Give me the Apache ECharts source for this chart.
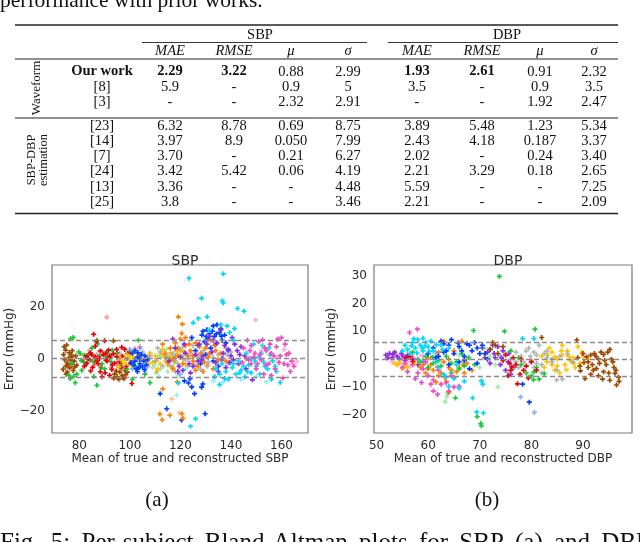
<!DOCTYPE html>
<html><head><meta charset="utf-8">
<script src="https://cdn.jsdelivr.net/npm/echarts@6/dist/echarts.min.js"></script>
<style>html,body{margin:0;padding:0;background:#fff}#c{width:640px;height:542px}</style>
</head><body><div id="c"></div>
<script>
// ---------- table data ----------
const rowLabels = ['Our work','[8]','[3]','[23]','[14]','[7]','[24]','[13]','[25]'];
const sbpMAE   = ['2.29','5.9','-','6.32','3.97','3.70','3.42','3.36','3.8'];
const sbpRMSE  = ['3.22','-','-','8.78','8.9','-','5.42','-','-'];
const sbpMu    = ['0.88','0.9','2.32','0.69','0.050','0.21','0.06','-','-'];
const sbpSigma = ['2.99','5','2.91','8.75','7.99','6.27','4.19','4.48','3.46'];
const dbpMAE   = ['1.93','3.5','-','3.89','2.43','2.02','2.21','5.59','2.21'];
const dbpRMSE  = ['2.61','-','-','5.48','4.18','-','3.29','-','-'];
const dbpMu    = ['0.91','0.9','1.92','1.23','0.187','0.24','0.18','-','-'];
const dbpSigma = ['2.32','3.5','2.47','5.34','3.37','3.40','2.65','7.25','2.09'];
const colHeaders = ['MAE','RMSE','μ','σ'];

// ---------- axis ticks / limits ----------
const sbpXTicks = [80,100,120,140,160];
const sbpYTicks = [-20,0,20];
const dbpXTicks = [50,60,70,80,90];
const dbpYTicks = [-20,-10,0,10,20,30];
const sbpLimits = [7.2,0,-7.2];
const dbpLimits = [6.2,0,-6.1];

// ---------- SBP scatter data ----------
const sbpBrown = [[74,4.5],[75,5.2],[74.6,3.2],[76,2.2],[77,0.6],[74.2,-0.4],[78,-1],[75.2,-1.6],[77,-2.2],[74.6,-3],[76.2,-3.6],[73.6,-4.2],[77.6,-4.6],[75.2,-5.2],[78.6,1],[76.6,-0.6],[73.8,1.5],[79,-2.6],[75.8,0.2],[77.2,3],[75.5,-2.5],[76.8,1.5],[78.2,-3.2],[74.8,-6],
 [94,-6],[95,-7],[96,-5.2],[97,-6.6],[98,-4.6],[95.6,-8],[93.6,-7.6],[99,-5.2],[96.6,-3.6],[97.6,-7.8],[94.6,-4.8],[98.4,-6.2],[93.5,6.8],[90.5,-0.6],[92,1.2]];
const sbpGreen = [[76.5,7.6],[77.6,8.1],[79.8,2.5],[81,-4.5],[75.8,-6.4],[76.4,-7.7],[78.4,-9.3],[87,-10.3],[85.7,-6.9],[81.7,-1.3],[87,7],[87.2,5.6],[103.4,7],[108,-9.3],[98.8,-4.1],[94.8,0.5],[83,0.5],[84.3,-0.6],[80.4,1.9],[82,1.2],[89,-2],[91,2.5],[86,-1.5],[90,-4],[80.8,-0.8],[77,-1.8],[93,3.2],[88,1],[106,-6],[104,-3.5],[100,2.5],[85,4],[79,-6],[101,-8],[77.8,-6.8],
 [82.5,-2.2],[84,1.8],[86.5,-0.2],[88.6,-3.6],[90.5,0.8],[92.5,-1.2],[95,2.2],[96.5,-2],[99,0.2],[102,-2.8]];
const sbpGreenLight = [[108,2],[110,-2.5],[111,1],[112,-4],[113,3],[114,-1],[115,-5],[116,1.5],[117,-3],[118,4],[110.5,-5.5],[112.5,0.5],[114.5,3.5],[109,-3.5],[116.5,-0.5],[119,-6.5],[111.5,-7]];
const sbpRed = [[85.7,9.3],[86.3,4.7],[88.3,2.9],[84.3,2.1],[86.3,0.6],[83,-1.9],[85.3,-3.4],[88.3,-5.1],[90.2,-5.5],[92.9,-4.2],[94.8,3.5],[96.8,4.3],[100.8,-9.6],[91.6,3.3],[84.5,-4.8],[82,-3],[97,0.8],[99.2,2],[87.5,-2],[89.5,1.5],[91,-1],[93,-2.5],[95.5,-3],[82.8,1],[86.8,6.5],[90,6.8],[98,3.5],[94,-1.8],[89,-7],[92,-6.5],[100.2,-2],
 [83.5,-0.2],[85,1.5],[87,-1],[88,0],[90.5,2],[92,0.5],[93.5,1.8],[95,0.6],[96,-1.2],[98.5,-3]];
const sbpRedLight = [[90.9,15.8],[83,0.5],[85,-1],[87,1.5],[84,3],[88.5,-3],[91,0],[93,1],[95,-1.5],[81.5,-0.5],[86,-2.5],[92.5,-3.5],[89,2.8],[96,2],[98.5,-0.5],[100,1.5],[102,3.8],[104,4.5],[97,-3]];
const sbpYellow = [[96.2,0],[98.2,-1.9],[100.2,-0.6],[95.5,-3.2],[98.8,1.3],[101.5,0.5],[97,-0.8],[109,-1.5],[110,1],[112,-2],[114,0.5],[116,2.2],[118,-1],[120,3],[113,3.5],[108,2],[104,1],[106,-1],[111,-4],[117,-3.5],[119,1.5],[121,0],[115,-2.5],[122,-2.2],[107,0.5],
 [99.5,1],[100.8,-2.6],[103,2],[105,-0.5],[107.5,-2],[110.5,-0.8],[112.5,1.5],[114.5,-1],[116.5,0.6],[118.5,2.8]];
const sbpBlue = [[101,2],[102,-1],[103,0.5],[104,-2],[105,-3],[102.5,-4],[106,1],[103.5,-3.5],[104.5,1.5],[101.5,-2.5],[105.5,-1],[107,-0.5],[102,3],[100.5,-1.5],[106.5,-2.4],[103,-5],[104,0],[103.2,2.2],[105.8,-4.2],
 [112,-13.5],[114.6,-19.3],[120.5,-23.7],[129.8,-21.2],[123.8,-7.7],[123.2,-9.4],[124.5,-10.9],[125.6,-13.5],[121.6,-8.6],[128.9,-9.8],[128.4,-11],
 [124.5,8],[128.5,9],[129,10.5],[130.5,11],[133,12.5],[134.5,13],[131.5,9.5],[133.5,8.5],[135.5,10],[131,7.5],[129.5,6.5],[134,5.5],[136.5,7],[132,4],[127,5],[136,11.5],[137.5,9],[138,6],[126,3],[130,1.5],[133,-1],[139,3],[128,-2],[135,-3],[134.2,9.4],[132.6,10.5],[130.2,8.4],[136.2,8.6]];
const sbpBlueLight = [[100,3.5],[103,-1],[105,2.5],[107,-3],[101,-4],[104,4],[120,-6],[118,1],[106,-5]];
const sbpOrange = [[119.2,16],[120.8,13.2],[120.5,9.6],[113,-11.7],[111.9,-21.3],[112.8,-23.5],[115.8,-21.8],[120.6,-21.2],[121,-23],[118.8,-9],
 [114,2],[116,4],[118,6],[120,7.5],[122,5],[124,3],[126,6],[128,2],[130,4],[132,7],[134,3],[125,-1],[127,-3],[121,-2],[117,-4],[123,1],[129,-5],[131,0.5],[119,1],[115,-1.5],[136,2],[138,-1],[113,5.5],[122,8],[126,-4.5],[133,-4],[117.5,0],
 [119,4],[121.5,2.5],[123.5,5.5],[125,1],[127.5,4.5],[129.5,-1.5],[131.5,2],[133.5,5],[135,-0.5],[116,-0.5]];
const sbpOrangeLight = [[116.6,-15.5],[110.6,-5],[119.5,-20.8],[125,-2],[131,-2.5]];
const sbpGray = [[108,1],[110,-1],[112,2.5],[113,-3],[115,0.5],[117,2],[119,-2],[120,3.5],[122,-0.5],[124,2],[126,-2.5],[127,1],[129,3],[131,-1.5],[132,2],[134,-3],[135,1.5],[137,0],[139,-2],[140,2.5],[118,-5],[121,4.6],[128,-4.2],[125,5],[111,4],[138,4],[116,-2.8],[123,0],
 [114,1.2],[117.5,-1.2],[120.5,1],[123,-2.8],[125.5,0.8],[128,0.5],[130.5,-3],[133,0.4],[136,-1],[138.5,1.4]];
const sbpPurple = [[115.5,-1],[117,7.5],[118,4],[119.5,-3],[121,-4.5],[120,0.5],[122,2],[123.5,-2],[124,-5.5],[119,-5],[131.5,8.5],[133,7],[134.5,6],[136,11],[137.5,5],[139,3.5],[140,1],[141,-0.5],[142.5,3],[144,4.5],[143,-2],[145.5,1],[138,-3.5],[140.5,8],[146,-4],[148.5,-8.2],[135,-5],[130.5,5.5],[128.5,-0.5],[126,1.5],[137,2],[127.5,5.5],
 [125,-3],[127,-1],[129,1],[132.5,2.5],[134,-1.5],[136.5,0],[139.5,-1.5],[141.5,5.5],[143.5,1.5],[121.5,5.5]];
const sbpCyan = [[123.4,30.8],[137,32.5],[137,21.3],[136.6,22.2],[128.4,23.1],[142.6,19.2],[145.2,18.2],[127.1,15.4],[130.6,16],[125.1,13.7],[141.4,11.5],[124,-26],[126,-23.1],[119.2,-9.4],[135.5,-10],[133.6,-6.9],[137.6,-7.7],
 [134,-4],[135.5,-6],[136.5,-2],[138,-5],[139,-8],[140.5,-3.5],[142,-6],[143,-1],[144,-4.5],[145.5,-7],[147,-2.5],[148,-5.5],[150,-3],[151.5,-6],[153,-1.5],[154.5,-4],[156,-8],[157.5,-3],[152,2],[155,4],[158,-5],[159.5,-9.2],[146,2],[149,5.5],[152.5,5],[141,7],[139.5,10],[138.5,12.5],[136,13],[131.5,11],
 [141,-2],[143.5,-5.5],[146.5,-5],[149.5,-1],[151,0.5],[153.5,-3],[156.5,-1],[155.5,1.5],[148,0],[145,-3]];
const sbpCyanLight = [[118.5,-14.1],[122,-4],[133,-8.5],[137,-9],[144,-8],[150,-7],[154,-9]];
const sbpPink = [[145,4],[146.5,7],[148,5],[149.5,2],[151,6.5],[152.5,7.2],[154,3],[155.5,5.5],[157,1],[158.5,7.5],[160,8],[161.5,5.5],[163,2],[164,-1],[165,-3],[163.5,-5],[161,-2],[159,-1.5],[157.5,-4],[155,-2],[152,-0.5],[150,-4],[148,-2],[146,0],[153,-6],[156,-6.5],[160.5,-7.5],[162,1.5],[144.5,-1.5],[147.5,3],
 [147,-0.5],[149,0.5],[151.5,1.5],[153.5,4],[156,2],[158,4.5],[159.5,1],[162.5,-2.5],[150.5,-2],[154,-2.5]];
const sbpPinkLight = [[149.8,14.8],[147,0.5],[152,3],[158,0],[161,3.5],[164.5,-2],[166,-1]];

// ---------- DBP scatter data ----------
const dbpPurple = [[51.8,1.5],[52.5,2],[53,0.5],[53.5,2.5],[54,1],[54.8,2],[55.5,-0.5],[52.2,0.5],[56,1.5],[57,0],[58,-2],[53.2,1.8],[54.4,0],[55.2,1],
 [70.5,4],[71.5,2.5],[72.5,5],[73,0.5],[74,-2],[74.5,3],[75,-4],[75.5,-1],[76,-5.5],[76.5,-3],[73.5,4.5],[72,-1.5],[71,0.5],[72.8,2],[74.2,0.5],[75.6,2]];
const dbpPink = [[56.4,9.6],[57.9,10.8],[58.7,-8.4],[61,-11.5],[61.8,-12.7],[55,-3],[56,-4.5],[57,-2],[58,-5],[59,-3.5],[60,-6],[61,-7.5],[62.5,-9],[63.5,-8.5],[64,-11.5],[65,-10],[66,-9.8],[59.5,-1],[62,-4],[55.5,-1.5],[57.5,-7],[64.5,-6],[60.5,-9]];
const dbpPinkLight = [[52,0],[53,-1],[54,-2],[55,0.5],[56,-1],[57,1],[58,-0.5],[59,1],[56.5,-2.5],[54.5,-1.5],[60,0],[53.5,1],[55.5,-2],[57.5,0],[58.5,1.5],[59.5,-1.5]];
const dbpCyan = [[55.5,5],[56,3.5],[57,6],[57.5,4],[58,7],[58.5,5],[59,3],[59.5,6],[60,4.5],[61,3],[56.5,2],[60.5,6.5],[62.5,5],[64,4],[55,3],[61.5,-1],[62,-3],[63,-5.5],[64,-9.8],[65,-7],[66,-10.5],[67,-8],[68.6,-14],[69.4,-19],[70.7,-19.4],[70.3,-7.8],[70.6,-9],[65.5,-2],[63.5,-6.5],[78.3,7.4],[80.5,7.4],[59,7.5],[57.2,7.3],
 [57.8,2.2],[58.8,4],[60.2,2.8],[61.6,5.2],[62.8,3.4],[59.4,4.6],[56.8,4.8]];
const dbpBlue = [[60,2],[61,4],[62,1],[63,5.5],[63.5,3],[64.5,7],[65,2],[66,4.5],[67,1],[67.5,5.5],[68.5,3],[69,6],[70,2],[70.5,5],[71.5,0],[72,3.5],[66,-1],[68,-3.5],[64,-2],[69.5,-1.5],[79.6,-15.5],[78.3,-9],[62.5,6.5],[65.8,5.8],
 [61.5,0.5],[63,2.5],[64,5],[66.5,3],[68,5],[69.5,4],[71,2],[67,-0.5]];
const dbpBlueLight = [[77.9,-13.6],[80.6,-19.2],[59,-0.5],[61.5,2],[74,1]];
const dbpOrange = [[58.5,-3],[59.5,-5],[60.5,-2],[61,-4],[62,-6],[63,-1],[63.5,-8],[64.5,-4],[65,-6.5],[66,-3],[67,-5],[67.5,-1.5],[68.5,-4],[63,6.5],[65,3],[66.5,6.5],[62,2.5],[64,0],[60,0.5],[61.5,-8.3],[64,-12],
 [59,-2],[60,-3.5],[61.8,-2.8],[62.5,-5],[64,-3],[65.5,-4.5],[66.8,-2],[63.2,-6.5]];
const dbpGreen = [[73.8,29.8],[68.8,10.3],[74.8,10],[80.7,10.8],[65.3,-14],[69.5,-20.7],[70.2,-23.2],[70.3,-24],[80.4,-7.4],[58.5,-1],[59.5,1],[60,-3],[61,-1.5],[62.5,-2.5],[63.5,1],[64.5,-5],[65.5,-1],[66.5,2],[67,-2.5],[57,2.5],[76,3],[78,-2],[79,-5],[80,-6],[81,-3],[77.5,0.5],[82.5,-5.2],[81.5,-7.2],[80.5,-4.6],
 [58,0],[60.8,0.8],[62,-0.5],[64.5,-1.5],[66,-3.5],[67.8,0.5],[69,-2]];
const dbpGreenLight = [[63.6,-13.6],[63.7,-12.4],[63.3,-15.3],[73.5,-10],[71,4],[72,1],[73,-2],[70,-3],[68,0.5],[66,1.5]];
const dbpRed = [[56.5,1],[57,-0.8],[55.8,0.5],[77.3,-8.9],[79.4,-6.8],[76,-4],[75.5,-6],[77,-2],[78,0],[79,-2.5],[76.5,0.5],[80,-1],[81,-4],[74.5,-0.5],[75,1.5],[75.8,-1.5],[76.2,-2.8],[78.5,-4],[77.8,-5.5]];
const dbpYellow = [[54,-2],[54.5,-1],[55,-3.5],[55.5,-2.5],[56,-3],[57.5,-1.5],[53.5,-1.5],[82,1],[83,-1],[84,2.5],[85,0],[86,1.5],[86.5,-2],[87,3],[88,0.5],[88.5,-3],[89,4.5],[90,1],[84.5,-4],[85.5,-5],[87.5,-0.5],[83.5,4],[89.5,-1.5],[86,5],[91,0],[84,-2],[82.5,-3],
 [83.2,1.5],[84.6,0.8],[85.8,3],[87.2,1],[88.2,-1.5],[85,-2.5],[86.8,-3.8],[89.8,2.5]];
const dbpGray = [[75,2],[76,0],[77,2.5],[78,1],[79,3],[80,-0.5],[81,1.5],[82,-2],[83,0.5],[84,-1],[85,-4],[84.9,-7.5],[86,-7.2],[79.5,4],[81.5,5],[83,3],[77.5,-3],[82,-5],[87,2],[88,-1],[80.5,-3],[75.5,-5],[76.5,-3.5],
 [78.5,-1],[79.8,1],[81,-1.5],[82.5,2],[84,0],[85.5,1],[80.5,2.5],[77,-1]];
const dbpBrown = [[82,7.8],[88.8,6.9],[73,5],[72,3.5],[74.5,4.5],[73.5,2],[72.5,6],[89,0.5],[89.4,-2.5],[90,2],[90.4,-7],[90.7,0.8],[91,-1],[91.5,1.5],[92,-4],[92.6,-3.4],[93,0],[93.5,2.5],[94,1.7],[94.5,-2],[95,-5],[95.2,3.5],[95.2,-7.6],[95.5,0],[96,-3],[96.2,-5.1],[96.5,-9.3],[96.9,-6.5],[97,-8],[93,-6],[91,-3],[94,-4.5],[92.5,1],[89.5,-4.2],
 [90.2,-1.2],[91.8,-2],[92.2,2],[93.2,-1.5],[94.2,-0.5],[94.8,2.5],[95.8,-1],[96.4,-4],[91.5,-5.5],[93.8,-7.2]];

// ---------- text ----------
const topLine = 'performance with prior works.';
const captionWords = ['Fig.','5:','Per-subject','Bland-Altman','plots','for','SBP','(a)','and','DBP'];
const subLabels = ['(a)','(b)'];

// ---------- build ----------
const C = {blue:'#023eff',orange:'#ff7c00',green:'#1ac938',red:'#e8000b',purple:'#8b2be2',brown:'#9f4800',pink:'#f14cc1',gray:'#a3a3a3',yellow:'#ffc400',cyan:'#00d7ff',corn:'#4a78ff'};
const plusPath = 'path://M1,0H2V1H3V2H2V3H1V2H0V1H1Z';
function sc(data, color, op, xi){
  return {type:'scatter', xAxisIndex:xi, yAxisIndex:xi, data:data, symbol:plusPath, symbolSize:5,
    itemStyle:{color:color, opacity:op}, silent:true, animation:false};
}
const sbpList = [
  [sbpBrown,C.brown,1],[sbpGreen,C.green,1],[sbpGreenLight,C.green,0.4],[sbpRedLight,C.red,0.4],[sbpRed,C.red,1],
  [sbpYellow,C.yellow,1],[sbpBlueLight,C.corn,0.6],[sbpBlue,C.blue,1],[sbpGray,C.gray,0.8],[sbpOrangeLight,C.orange,0.45],
  [sbpOrange,C.orange,1],[sbpPurple,C.purple,1],[sbpCyanLight,C.cyan,0.45],[sbpCyan,C.cyan,1],[sbpPinkLight,C.pink,0.45],[sbpPink,C.pink,1]
];
const dbpList = [
  [dbpPinkLight,C.pink,0.4],[dbpPurple,C.purple,1],[dbpYellow,C.yellow,1],[dbpGray,C.gray,0.8],[dbpOrange,C.orange,1],
  [dbpGreenLight,C.green,0.4],[dbpGreen,C.green,1],[dbpPink,C.pink,1],[dbpRed,C.red,1],[dbpBlueLight,C.corn,0.6],
  [dbpBlue,C.blue,1],[dbpCyan,C.cyan,1],[dbpBrown,C.brown,1]
];
const series = [];
sbpList.forEach(s=>series.push(sc(s[0],s[1],s[2],0)));
dbpList.forEach(s=>series.push(sc(s[0],s[1],s[2],1)));
function limitSeries(vals, xi){
  return {type:'line', xAxisIndex:xi, yAxisIndex:xi, data:[], silent:true, animation:false, z:5,
    markLine:{symbol:'none', silent:true, animation:false, label:{show:false},
      lineStyle:{type:[5,3], color:'#8a8a8a', width:1.4}, data: vals.map(v=>({yAxis:v}))}};
}
series.push(limitSeries(sbpLimits,0));
series.push(limitSeries(dbpLimits,1));

const tickFont = {fontFamily:'DejaVu Sans', fontSize:12, color:'#2b2b2b'};
function xAx(min,max,ticks,name,gi){
  return {type:'value', gridIndex:gi, min:min, max:max, splitLine:{show:false}, axisLine:{show:false}, axisTick:{show:false},
    axisLabel:Object.assign({customValues:ticks, margin:7}, tickFont),
    name:name, nameLocation:'middle', nameGap:20, nameTextStyle:{fontFamily:'DejaVu Sans', fontSize:12, color:'#2b2b2b'}};
}
function yAx(min,max,ticks,gi){
  return {type:'value', gridIndex:gi, min:min, max:max, splitLine:{show:false}, axisLine:{show:false}, axisTick:{show:false},
    axisLabel:Object.assign({customValues:ticks, margin:7, formatter:v=>String(v).replace('-','\u2212')}, tickFont),
    name:'Error (mmHg)', nameLocation:'middle', nameGap:34, nameTextStyle:{fontFamily:'DejaVu Sans', fontSize:12, color:'#2b2b2b'}};
}

// table graphics
const SERIF = 'Liberation Serif';
const FS = 14.5;
const g = [];
function T(x,y,text,opt){
  opt = opt||{};
  g.push({type:'text', x:x, y:y, rotation:opt.rot||0, silent:true,
    style:{text:text, font:(opt.style||'')+' '+(opt.weight||'normal')+' '+(opt.size||FS)+'px "'+(opt.family||SERIF)+'"',
      fill:opt.fill||'#111', textAlign:opt.align||'center', textVerticalAlign:opt.va||'middle', align:opt.align||'center', verticalAlign:opt.va||'middle'}});
}
function L(x1,y1,x2,y2,w){
  g.push({type:'line', silent:true, shape:{x1:x1,y1:y1,x2:x2,y2:y2}, style:{stroke:'#222', lineWidth:w||1}});
}
// cut sentence above the table
T(0,1,topLine,{align:'left',size:21.5});
// justified caption (cut at the bottom edge)
(function(){
  const capSize = 25;
  const cv = document.createElement('canvas').getContext('2d');
  cv.font = capSize+'px "'+SERIF+'"';
  const widths = captionWords.map(w=>cv.measureText(w).width);
  const total = widths.reduce((a,b)=>a+b,0);
  const spaceW = cv.measureText(' ').width;
  const targetW = 650;
  const gap = Math.max(spaceW, (targetW-total)/(captionWords.length-1));
  let x = 0;
  captionWords.forEach((w,i)=>{ T(x,543,w,{align:'left',size:capSize}); x += widths[i]+gap; });
})();
T(157,500,subLabels[0],{size:21});
T(487,500,subLabels[1],{size:21});

L(15,25,618,25,1.3);
T(260,35,'SBP');
T(507,35,'DBP');
L(142,42.5,367,42.5,0.9);
L(388,42.5,618,42.5,0.9);
const colX = [170,234,291,348,417,482,540,594];
colHeaders.concat(colHeaders).forEach((h,i)=>T(colX[i],51,h,{style:'italic'}));
L(15,59,618,59,1);
const rowY = [71.7,86.7,101.7,126,141,156,171.5,187,202.5];
const cols = [sbpMAE,sbpRMSE,sbpMu,sbpSigma,dbpMAE,dbpRMSE,dbpMu,dbpSigma];
rowLabels.forEach((lab,r)=>{
  T(102,rowY[r],lab,{weight: r===0?'bold':'normal'});
  cols.forEach((col,c)=>{
    const bold = r===0 && (c===0||c===1||c===4||c===5);
    T(colX[c],rowY[r],col[r],{weight: bold?'bold':'normal'});
  });
});
L(15,118,618,118,1);
L(15,213.5,618,213.5,1.3);
T(36.5,88,'Waveform',{rot:Math.PI/2,size:13});
T(31.5,160,'SBP-DBP',{rot:Math.PI/2,size:12.5});
T(43.5,160,'estimation',{rot:Math.PI/2,size:12.5});

const chart = echarts.init(document.getElementById('c'), null, {renderer:'canvas'});
chart.setOption({
  animation:false,
  backgroundColor:'#fff',
  title:[
    {text:'SBP', left:180, top:249, textAlign:'center', textStyle:{fontFamily:'DejaVu Sans', fontSize:14, fontWeight:'normal', color:'#2b2b2b'}},
    {text:'DBP', left:503, top:249, textAlign:'center', textStyle:{fontFamily:'DejaVu Sans', fontSize:14, fontWeight:'normal', color:'#2b2b2b'}}
  ],
  grid:[
    {left:52, top:265, width:256, height:168, show:true, borderColor:'#7a7a7a', borderWidth:1.2, containLabel:false},
    {left:374, top:265, width:258, height:168, show:true, borderColor:'#7a7a7a', borderWidth:1.2, containLabel:false}
  ],
  xAxis:[xAx(69.2,170.5,sbpXTicks,'Mean of true and reconstructed SBP',0), xAx(49.5,99.5,dbpXTicks,'Mean of true and reconstructed DBP',1)],
  yAxis:[yAx(-28.6,35.9,sbpYTicks,0), yAx(-26.6,33.9,dbpYTicks,1)],
  series:series,
  graphic:g
});
</script></body></html>
